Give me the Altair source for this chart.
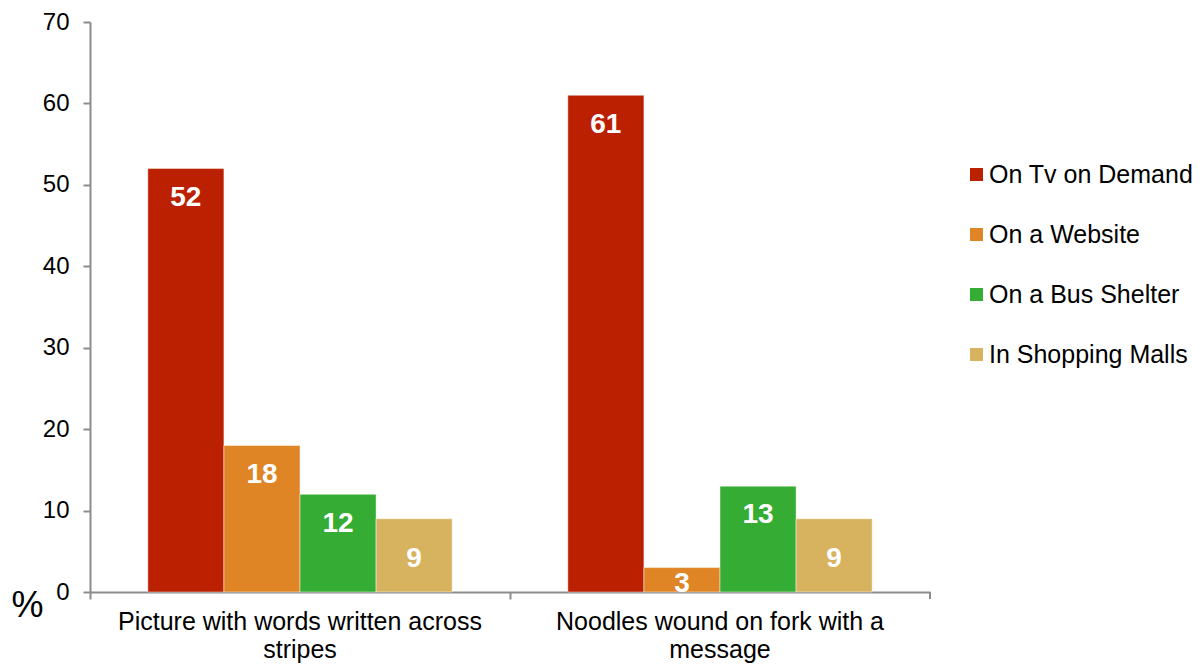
import json
import altair as alt
import pandas as pd

categories = ["Picture with words written across stripes", "Noodles wound on fork with a message"]
category_lines = [["Picture with words written across", "stripes"], ["Noodles wound on fork with a", "message"]]
series = ["On Tv on Demand", "On a Website", "On a Bus Shelter", "In Shopping Malls"]
tv_on_demand = [52, 61]
website = [18, 3]
bus_shelter = [12, 13]
shopping_malls = [9, 9]
colors = ["#BB2000", "#E08526", "#35AC33", "#D8B35F"]
y_ticks = [0, 10, 20, 30, 40, 50, 60, 70]

rows = []
for s, vals in zip(series, [tv_on_demand, website, bus_shelter, shopping_malls]):
    for c, v in zip(categories, vals):
        rows.append({"category": c, "series": s, "value": v})
df = pd.DataFrame(rows)

label_expr = " : ".join(
    f"datum.value == {json.dumps(c)} ? {json.dumps(l)}" for c, l in zip(categories, category_lines)
) + " : datum.label"

FONT = "Liberation Sans"
GRAY = "#8c8c8c"

x_enc = alt.X(
    "category:N",
    sort=categories,
    scale=alt.Scale(paddingInner=0, paddingOuter=0),
    axis=alt.Axis(
        title=None,
        labelExpr=label_expr,
        labelFontSize=25,
        labelFont=FONT,
        labelColor="#000000",
        labelLineHeight=28,
        labelPadding=10,
        labelBaseline="top",
        labelAngle=0,
        labelLimit=0,
        bandPosition=0,
        tickSize=7,
        tickWidth=2,
        tickColor=GRAY,
        domainColor=GRAY,
        domainWidth=2,
    ),
)
xoff_enc = alt.XOffset("series:N", sort=series, scale=alt.Scale(paddingInner=0, paddingOuter=0.76))
y_scale = alt.Scale(domain=[0, 70], nice=False)

base = alt.Chart(df)

bars = base.mark_bar(stroke="white", strokeWidth=1, strokeOpacity=0.45).encode(
    x=x_enc,
    xOffset=xoff_enc,
    y=alt.Y(
        "value:Q",
        scale=y_scale,
        axis=alt.Axis(
            values=y_ticks,
            grid=False,
            title="%",
            titleAngle=0,
            titleX=-63,
            titleY=583,
            titleAlign="center",
            titleBaseline="middle",
            titleFontSize=36,
            titleFont=FONT,
            titleFontWeight="normal",
            titleColor="#000000",
            labelFontSize=24,
            labelFont=FONT,
            labelColor="#000000",
            labelPadding=14,
            tickSize=7,
            tickWidth=2,
            tickColor=GRAY,
            domainColor=GRAY,
            domainWidth=2,
        ),
    ),
    color=alt.Color(
        "series:N",
        sort=series,
        scale=alt.Scale(domain=series, range=colors),
        legend=alt.Legend(
            title=None,
            orient="none",
            legendX=874,
            legendY=140,
            padding=0,
            symbolType="square",
            symbolSize=169,
            symbolStrokeWidth=0,
            labelFontSize=25,
            labelFont=FONT,
            labelColor="#000000",
            labelOffset=0,
            labelLimit=0,
            rowPadding=34,
        ),
    ),
)

labels = base.transform_calculate(
    label_y="datum.value >= 10 ? datum.value - 3.6 : datum.value * 0.5 - 0.5"
).mark_text(
    color="white", fontSize=28, fontWeight="bold", font=FONT, baseline="middle", align="center"
).encode(
    x=alt.X("category:N", sort=categories),
    xOffset=alt.XOffset("series:N", sort=series),
    y=alt.Y("label_y:Q", scale=y_scale),
    text=alt.Text("value:Q"),
)

end_tick = alt.Chart(pd.DataFrame({"a": [0]})).mark_rule(color=GRAY, strokeWidth=2).encode(
    x=alt.value(840), y=alt.value(570), y2=alt.value(577)
)

chart = alt.layer(bars, labels, end_tick).properties(
    width=840,
    height=570,
    autosize=alt.AutoSizeParams(type="none"),
    padding={"left": 90, "top": 22, "right": 270, "bottom": 74},
    background="white",
).configure_view(stroke=None)

chart.save("out.html", embed_options={"renderer": "svg", "actions": False})
